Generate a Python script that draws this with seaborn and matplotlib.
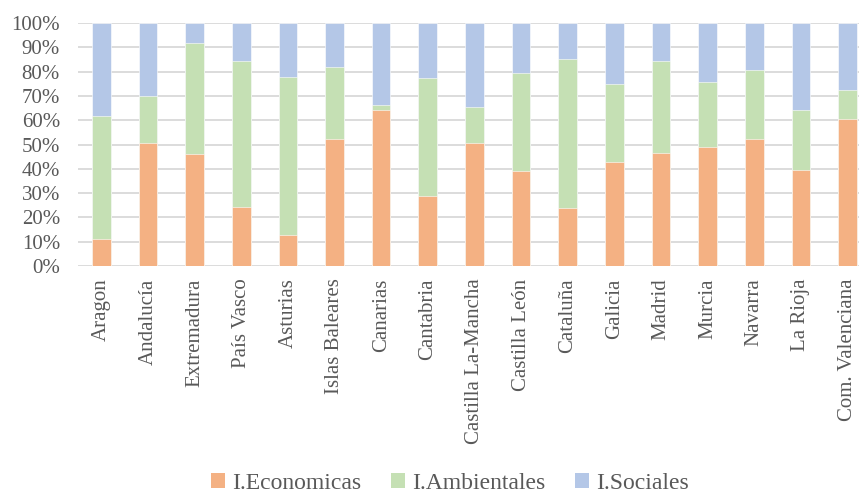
import numpy as np
import pandas as pd
import matplotlib
matplotlib.use("Agg")
import matplotlib.pyplot as plt
import seaborn as sns
from matplotlib.patches import Patch
from matplotlib.ticker import PercentFormatter

regions = ["Aragon", "Andalucía", "Extremadura", "País Vasco", "Asturias",
           "Islas Baleares", "Canarias", "Cantabria", "Castilla La-Mancha",
           "Castilla León", "Cataluña", "Galicia", "Madrid", "Murcia",
           "Navarra", "La Rioja", "Com. Valenciana"]
economicas = [11.0, 50.5, 46.2, 24.3, 12.7, 52.4, 64.4, 29.0, 50.8,
              38.9, 23.9, 42.9, 46.5, 49.1, 52.3, 39.5, 60.5]
ambientales = [50.8, 19.5, 45.5, 60.0, 65.0, 29.6, 1.8, 48.3, 14.7,
               40.6, 61.1, 32.2, 38.0, 26.6, 28.3, 24.6, 12.1]
sociales = [38.2, 30.0, 8.3, 15.7, 22.3, 18.0, 33.8, 22.7, 34.5,
            20.5, 15.0, 24.9, 15.5, 24.3, 19.4, 35.9, 27.4]
series = ["I.Economicas", "I.Ambientales", "I.Sociales"]
colors = ["#F4B183", "#C5E0B4", "#B4C7E7"]

df = pd.DataFrame({"region": regions, "eco": economicas,
                   "amb": ambientales, "soc": sociales})
# stack as shares of 100%
tot = df[["eco", "amb", "soc"]].sum(axis=1)
df["top_eco"] = df["eco"] / tot * 100
df["top_amb"] = (df["eco"] + df["amb"]) / tot * 100
df["top_soc"] = 100.0

sns.set_style("white")
plt.rcParams["font.family"] = ["Liberation Serif", "DejaVu Serif"]
txt = "#595959"

fig = plt.figure(figsize=(8.59, 4.95), dpi=100)
ax = fig.add_axes([0.0908, 0.4626, 0.923, 0.4909])

for col, c in zip(["top_soc", "top_amb", "top_eco"], colors[::-1]):
    sns.barplot(data=df, x="region", y=col, color=c, width=0.4,
                saturation=1, edgecolor="white", linewidth=0.4, ax=ax)

ax.set_ylim(0, 100)
ax.set_yticks(np.arange(0, 101, 10))
ax.yaxis.set_major_formatter(PercentFormatter(decimals=0))
ax.grid(axis="y", color="#D9D9D9", linewidth=1.3)
ax.set_axisbelow(True)
for s in ax.spines.values():
    s.set_visible(False)
ax.set_xlabel("")
ax.set_ylabel("")
ax.tick_params(axis="both", length=0, labelsize=15, colors=txt)
ax.tick_params(axis="y", pad=13)
ax.tick_params(axis="x", pad=9)
plt.setp(ax.get_xticklabels(), rotation=90)
ax.set_xlim(-0.5, len(regions) - 0.5)

handles = [Patch(facecolor=c, edgecolor="none") for c in colors]
fig.legend(handles, series, loc="lower center", bbox_to_anchor=(0.524, -0.04),
           ncol=3, frameon=False, fontsize=17, labelcolor=txt,
           handlelength=0.6, handleheight=0.6, handletextpad=0.3,
           columnspacing=1.25)

fig.savefig("out.png", dpi=100)
